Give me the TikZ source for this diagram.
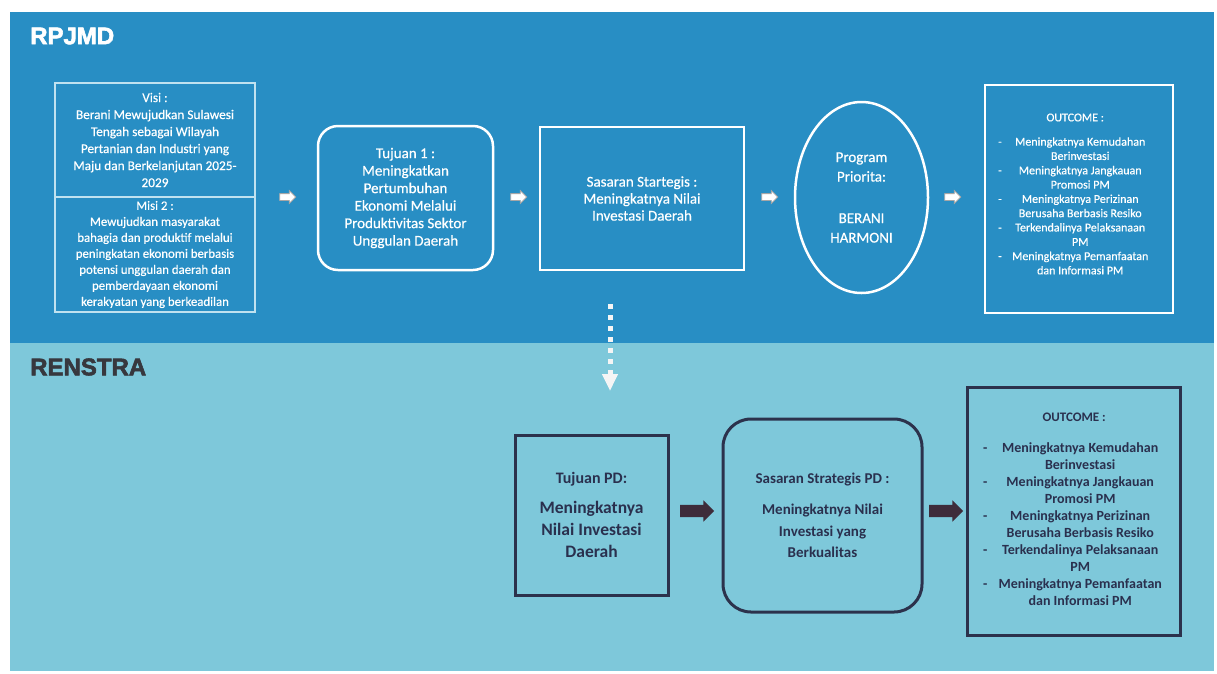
\documentclass[tikz,border=0pt]{standalone}
\usepackage{fontspec}
\usepackage{array}
\setmainfont{Carlito}
\newfontfamily\wfont{Carlito}[FakeBold=0.5]
\newfontfamily\headfont{Liberation Sans Bold}[FakeBold=2.5]
\usetikzlibrary{shapes.geometric,shapes.arrows,arrows.meta}
\definecolor{topblue}{RGB}{40,142,196}
\definecolor{lowblue}{RGB}{126,200,218}
\definecolor{navy}{RGB}{42,48,78}
\definecolor{boxline}{RGB}{44,50,76}
\definecolor{arrowdark}{RGB}{62,44,58}
\definecolor{visiline}{RGB}{192,226,240}
\definecolor{renstragray}{RGB}{55,56,62}
\tikzset{
  wtext/.style={text=white, align=center, inner sep=0pt},
  ntext/.style={text=navy, align=center, inner sep=0pt},
  visibox/.style={draw=visiline, line width=1.2pt, minimum width=200pt, wtext},
  wbox/.style={draw=white, line width=2.5pt, wtext},
  nbox/.style={draw=boxline, line width=3pt, ntext},
  warrow/.style={single arrow, draw=gray!70, fill=white, line width=0.8pt,
    minimum height=16pt, single arrow head extend=3pt, inner sep=0pt},
  darrow/.style={single arrow, fill=arrowdark, draw=none,
    minimum height=34pt, single arrow head extend=4.5pt, inner sep=0pt},
  heading/.style={anchor=west, inner sep=0pt, font=\fontsize{24}{28}\selectfont\headfont}
}
\begin{document}
\begin{tikzpicture}[x=1pt,y=-1pt]
\useasboundingbox (0,0) rectangle (1217,673);
\fill[white] (0,0) rectangle (1217,673);
\fill[topblue] (10,12) rectangle (1214,343);
\fill[lowblue] (10,343) rectangle (1214,671);

% headings
\node[heading, text=white] (rpjmd) at (30,36) {RPJMD};
\node[heading, text=renstragray] (renstra) at (30,367) {RENSTRA};

% RPJMD row
\node[visibox, minimum height=114pt, font=\fontsize{13.3}{17}\selectfont\wfont] (visi) at (155,140)
  {Visi :\\Berani Mewujudkan Sulawesi\\Tengah sebagai Wilayah\\Pertanian dan Industri yang\\Maju dan Berkelanjutan 2025-\\2029};
\node[visibox, minimum height=115pt, font=\fontsize{12.8}{16}\selectfont\wfont] (misi) at (155,254.5)
  {Misi 2 :\\Mewujudkan masyarakat\\bahagia dan produktif melalui\\peningkatan ekonomi berbasis\\potensi unggulan daerah dan\\pemberdayaan ekonomi\\kerakyatan yang berkeadilan};

\node[wbox, rounded corners=20pt, minimum width=175pt, minimum height=144pt,
  font=\fontsize{15}{17.5}\selectfont\wfont] (tuj1) at (405.5,198)
  {Tujuan 1 :\\Meningkatkan\\Pertumbuhan\\Ekonomi Melalui\\Produktivitas Sektor\\Unggulan Daerah};

\node[wbox, minimum width=204pt, minimum height=143pt,
  font=\fontsize{15}{17}\selectfont\wfont] (sas) at (642,198.5)
  {Sasaran Startegis :\\Meningkatnya Nilai\\Investasi Daerah};

\node[wbox, ellipse, minimum width=133pt, minimum height=191pt,
  font=\fontsize{15}{19.5}\selectfont\wfont] (prog) at (861.5,197.5)
  {Program\\Priorita:\\[22pt]BERANI\\HARMONI};

\node[wbox, minimum width=188pt, minimum height=228pt] (out1) at (1079,199) {};
\node[wtext, anchor=west, font=\fontsize{12}{14.3}\selectfont\wfont] (out1txt) at (998,195)
  {\begin{tabular}{@{}p{10pt}@{}>{\centering\arraybackslash}p{144pt}@{}}
   \multicolumn{2}{c}{OUTCOME :}\\[10pt]
   - & Meningkatnya Kemudahan\\
     & Berinvestasi\\
   - & Meningkatnya Jangkauan\\
     & Promosi PM\\
   - & Meningkatnya Perizinan\\
     & Berusaha Berbasis Resiko\\
   - & Terkendalinya Pelaksanaan\\
     & PM\\
   - & Meningkatnya Pemanfaatan\\
     & dan Informasi PM
   \end{tabular}};

\node[warrow] (a1) at (286,197) {\rule{0pt}{6pt}};
\node[warrow] (a2) at (517,197) {\rule{0pt}{6pt}};
\node[warrow] (a3) at (768,197) {\rule{0pt}{6pt}};
\node[warrow] (a4) at (951,197) {\rule{0pt}{6pt}};

% dotted link down
\coordinate (d1) at (610,304);
\coordinate (d2) at (610,391);
\draw[white!92!gray, line width=5pt, dash pattern=on 5pt off 6pt,
  -{Triangle[width=15pt,length=17pt]}] (d1) -- (d2);

% RENSTRA row
\node[nbox, minimum width=153pt, minimum height=160pt,
  font=\fontsize{17.5}{22}\selectfont\bfseries] (tujpd) at (591.5,515)
  {{\fontsize{16}{22}\selectfont Tujuan PD:}\\[8pt]Meningkatnya\\Nilai Investasi\\Daerah};

\node[nbox, rounded corners=28pt, minimum width=199pt, minimum height=193pt,
  font=\fontsize{15}{21.5}\selectfont\bfseries] (saspd) at (822.5,515.5)
  {Sasaran Strategis PD :\\[10pt]Meningkatnya Nilai\\Investasi yang\\Berkualitas};

\node[nbox, minimum width=213pt, minimum height=248pt] (out2) at (1073.5,511) {};
\node[ntext, anchor=west, font=\fontsize{14}{17}\selectfont\bfseries] (out2txt) at (983,510)
  {\begin{tabular}{@{}p{12pt}@{}>{\centering\arraybackslash}p{170pt}@{}}
   \multicolumn{2}{c}{\fontsize{13}{17}\selectfont OUTCOME :}\\[14pt]
   - & Meningkatnya Kemudahan\\
     & Berinvestasi\\
   - & Meningkatnya Jangkauan\\
     & Promosi PM\\
   - & Meningkatnya Perizinan\\
     & Berusaha Berbasis Resiko\\
   - & Terkendalinya Pelaksanaan\\
     & PM\\
   - & Meningkatnya Pemanfaatan\\
     & dan Informasi PM
   \end{tabular}};

\node[darrow] (b1) at (694,511) {\rule{0pt}{12pt}};
\node[darrow] (b2) at (943,511) {\rule{0pt}{12pt}};
\end{tikzpicture}
\end{document}
